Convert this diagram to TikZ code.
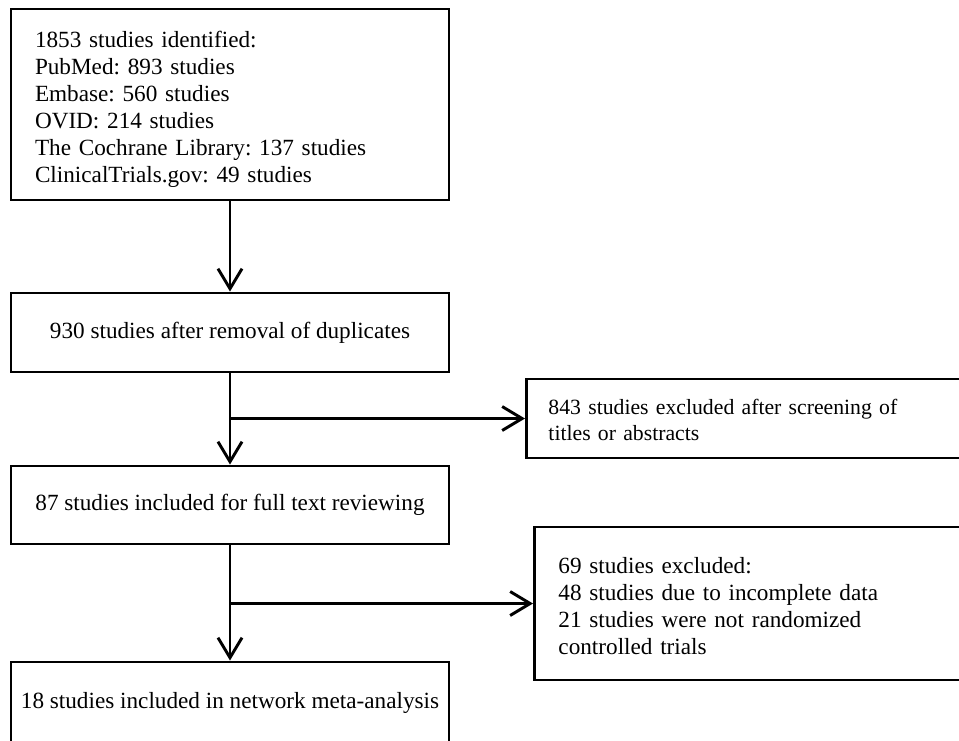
\documentclass[tikz,border=0pt]{standalone}
\usepackage{fontspec}
\setmainfont{Liberation Serif}
\frenchspacing
\usetikzlibrary{arrows.meta,positioning,calc}
\tikzset{
  font={\fontsize{17.4pt}{20.25pt}\selectfont}}

\begin{document}
\begin{tikzpicture}[x=0.75pt, y=-0.75pt,
    block_left/.style ={rectangle, draw=black, line width=2.2pt, fill=white,
      inner xsep=18pt, inner ysep=0pt},
    block_center/.style ={rectangle, draw=black, line width=2.2pt, fill=white,
      minimum width=328.5pt, align=center},
    paths2/.style={black, draw, line width=2.2pt,
      arrows={-Straight Barb[length=15pt, width=18pt]}}]
    \useasboundingbox (0,0) rectangle (959,740);
    \clip (0,0) rectangle (959,740);
    % main column
    \node[block_left, minimum width=328.5pt, minimum height=143.25pt, text width=292.5pt]
      (identified) at (230,104.5) {\begin{tabular}{@{}l@{}}\rule{0pt}{21.7pt}1853 studies identified:\\PubMed: 893 studies\\Embase: 560 studies\\OVID: 214 studies\\The Cochrane Library: 137 studies\\ClinicalTrials.gov: 49 studies\end{tabular}};
    \node[block_center, minimum height=59.25pt] (dupl) at (230,332.5) {930 studies after removal of duplicates};
    \node[block_center, minimum height=58.5pt] (fulltext) at (230,505) {87 studies included for full text reviewing};
    \node[block_center, minimum height=60.75pt] (nma) at (230,702.5) {18 studies included in network meta-analysis};
    % exclusion boxes (cut by the right margin)
    \node[block_left, anchor=west, minimum height=59.25pt, text width=330pt, inner xsep=16.5pt,
      font={\fontsize{16.3pt}{19.5pt}\selectfont}]
      (excl1) at (525,418.5) {\begin{tabular}{@{}l@{}}\rule{0pt}{18.9pt}843 studies excluded after screening of\\titles or abstracts\end{tabular}};
    \node[block_left, anchor=west, minimum height=114.75pt, text width=330pt]
      (excl2) at (533,603.5) {\begin{tabular}{@{}l@{}}\rule{0pt}{21.7pt}69 studies excluded:\\48 studies due to incomplete data\\21 studies were not randomized\\controlled trials\end{tabular}};
    % split points
    \coordinate (split1) at (dupl.south |- excl1.west);
    \coordinate (split2) at (fulltext.south |- excl2.west);
    % connecting nodes with paths
    \begin{scope}[every path/.style=paths2]
      \path(identified)--(dupl);
      \path(dupl)--(fulltext);
      \path(split1)--(excl1);
      \path(fulltext)--(nma);
      \path(split2)--(excl2);
    \end{scope}
\end{tikzpicture}
\end{document}
